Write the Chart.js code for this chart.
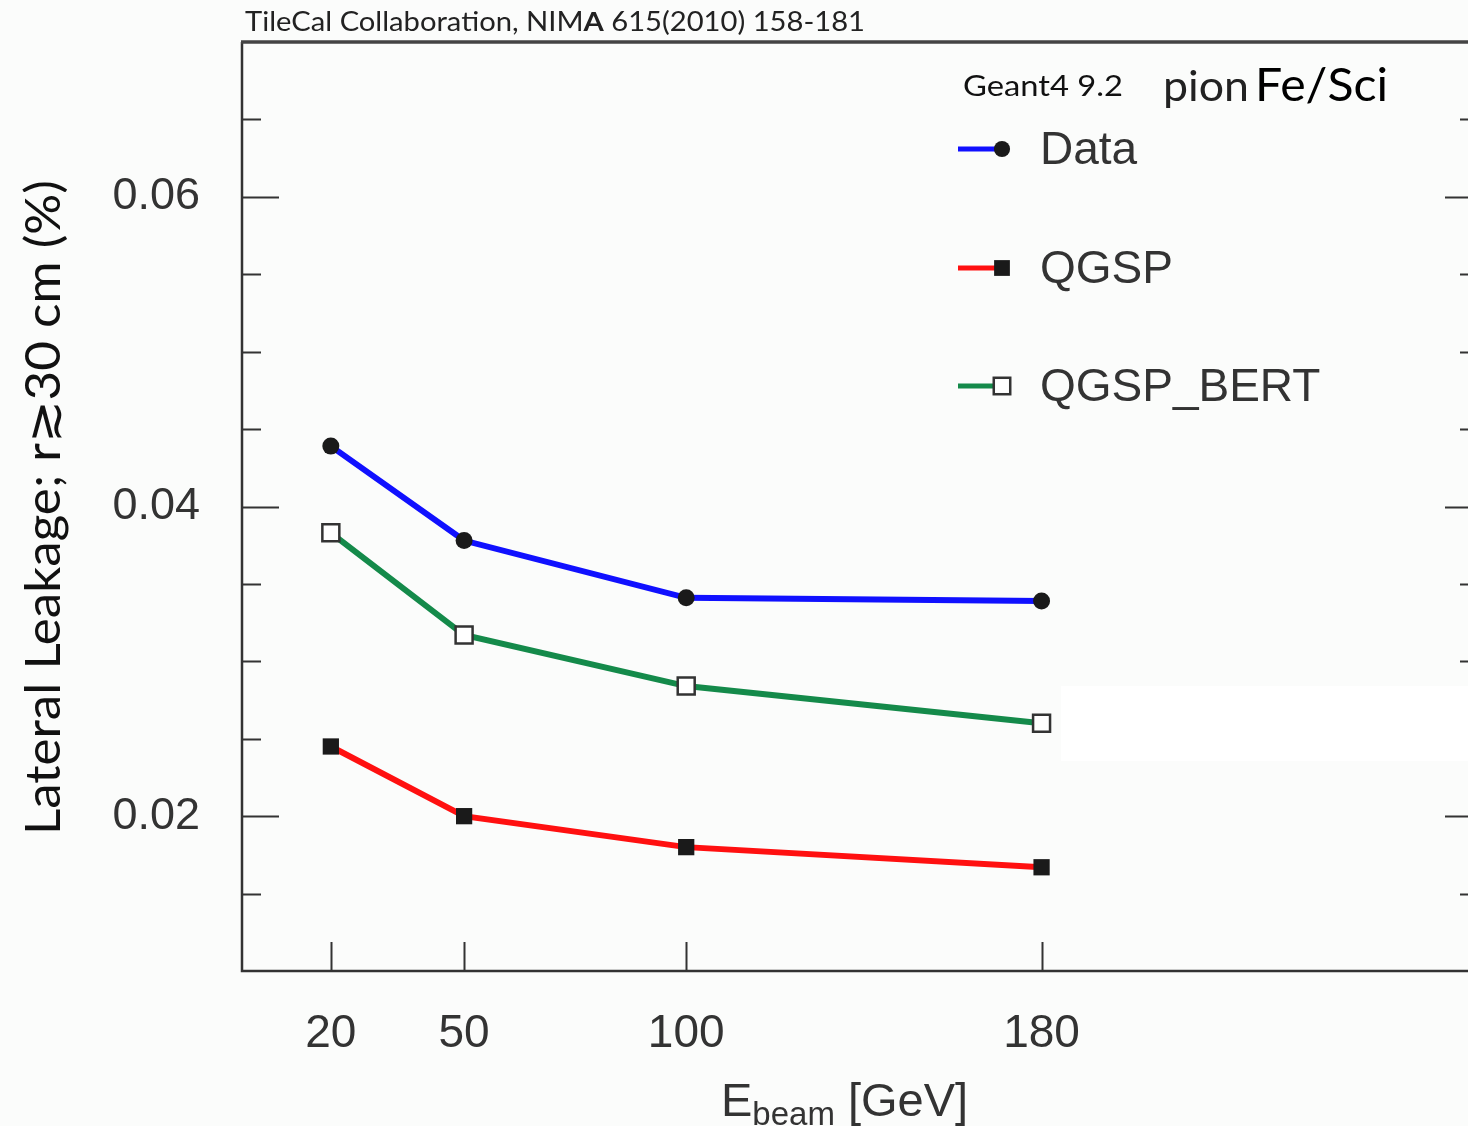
<!DOCTYPE html>
<html>
<head>
<meta charset="utf-8">
<script src="https://cdn.jsdelivr.net/npm/chart.js@4.4.1/dist/chart.umd.min.js"></script>
<style>
  html, body { margin: 0; padding: 0; background: #fbfcfb; }
  #wrap { width: 1468px; height: 1126px; position: relative; }
</style>
</head>
<body>
<div id="wrap"><canvas id="chart" width="1468" height="1126"></canvas></div>
<script>
// beam energies (GeV)
const energies = [20, 50, 100, 180];
// lateral leakage r >~ 30 cm (%)
const dataVals = [0.0439, 0.0378, 0.0341, 0.0339];
const qgspVals = [0.0245, 0.0200, 0.0180, 0.0167];
const bertVals = [0.0383, 0.0317, 0.0284, 0.0260];

const seriesNames = ["Data", "QGSP", "QGSP_BERT"];
const xTickVals = [20, 50, 100, 180];
const yMajorTicks = [0.02, 0.04, 0.06];

const X_MIN = 0, X_MAX = 276;
const Y_MIN = 0.01, Y_MAX = 0.07, Y_STEP = 0.005;

const TICK_FONT = "Liberation Sans, Arial, sans-serif";
const GILL = "Lato, 'Open Sans', sans-serif";

const pts = (vals) => energies.map((x, i) => ({ x, y: vals[i] }));

function isMajor(v) {
  return yMajorTicks.some((m) => Math.abs(m - v) < 1e-6);
}

// draw text squeezed/stretched horizontally to a given width
function fitText(ctx, text, x, y, width) {
  const w = ctx.measureText(text).width;
  ctx.save();
  ctx.translate(x, y);
  ctx.scale(width / w, 1);
  ctx.fillText(text, 0, 0);
  ctx.restore();
}

function drawMarker(ctx, ds, x, y, scale) {
  const r = ds.pointRadius * scale;
  ctx.save();
  ctx.lineWidth = ds.pointBorderWidth;
  ctx.strokeStyle = ds.pointBorderColor;
  ctx.fillStyle = ds.pointBackgroundColor;
  if (ds.pointStyle === "circle") {
    ctx.beginPath();
    ctx.arc(x, y, r, 0, Math.PI * 2);
    ctx.fill();
  } else {
    const s = r / Math.SQRT2;
    ctx.fillRect(x - s, y - s, 2 * s, 2 * s);
    if (ds.pointBorderWidth) ctx.strokeRect(x - s, y - s, 2 * s, 2 * s);
  }
  ctx.restore();
}

const bgPlugin = {
  id: "bg",
  beforeDraw(chart) {
    const { ctx, width, height } = chart;
    ctx.save();
    ctx.fillStyle = "#fbfcfb";
    ctx.fillRect(0, 0, width, height);
    ctx.restore();
  },
};

const framePlugin = {
  id: "frame",
  afterDraw(chart) {
    const { ctx, chartArea: a, scales } = chart;
    const x = scales.x, y = scales.y;
    ctx.save();

    // pale patch right of the last point (scan artefact in the source)
    ctx.fillStyle = "#ffffff";
    ctx.fillRect(1061, 686, a.right - 1061, 75);

    // axis frame
    ctx.strokeStyle = "#333";
    ctx.lineWidth = 2.5;
    ctx.beginPath();
    ctx.moveTo(a.left, a.top);
    ctx.lineTo(a.left, a.bottom);
    ctx.lineTo(a.right, a.bottom);
    ctx.stroke();
    ctx.lineWidth = 3.5;
    ctx.strokeStyle = "#444";
    ctx.beginPath();
    ctx.moveTo(a.left - 1, a.top);
    ctx.lineTo(a.right, a.top);
    ctx.stroke();

    // y ticks, inward on both sides
    ctx.strokeStyle = "#333";
    ctx.lineWidth = 2;
    y.ticks.forEach((t) => {
      const v = t.value;
      if (v <= Y_MIN + 1e-6 || v >= Y_MAX - 1e-6) return;
      const py = Math.round(y.getPixelForValue(v)) + 0.5;
      const major = isMajor(v);
      ctx.beginPath();
      ctx.moveTo(a.left, py);
      ctx.lineTo(a.left + (major ? 37 : 19), py);
      if (py < 686 || py > 761) {
        ctx.moveTo(a.right, py);
        ctx.lineTo(a.right - (major ? 23 : 8), py);
      }
      ctx.stroke();
    });

    // x ticks, inward from the bottom
    xTickVals.forEach((v) => {
      const px = Math.round(x.getPixelForValue(v)) + 0.5;
      ctx.beginPath();
      ctx.moveTo(px, a.bottom);
      ctx.lineTo(px, a.bottom - 29);
      ctx.stroke();
    });

    // tick labels
    ctx.fillStyle = "#333";
    ctx.font = `45px ${TICK_FONT}`;
    ctx.textAlign = "right";
    ctx.textBaseline = "middle";
    yMajorTicks.forEach((v) => {
      ctx.fillText(v.toFixed(2), 200, y.getPixelForValue(v));
    });
    ctx.font = `46px ${TICK_FONT}`;
    ctx.textAlign = "center";
    xTickVals.forEach((v) => {
      ctx.fillText(String(v), x.getPixelForValue(v), 1034);
    });

    // x title: E_beam [GeV]
    ctx.textAlign = "left";
    ctx.textBaseline = "alphabetic";
    ctx.font = `47px ${TICK_FONT}`;
    let cx = 721;
    ctx.fillText("E", cx, 1116);
    cx += ctx.measureText("E").width;
    ctx.font = `33px ${TICK_FONT}`;
    ctx.fillText("beam", cx, 1125);
    cx += ctx.measureText("beam").width;
    ctx.font = `47px ${TICK_FONT}`;
    ctx.fillText(" [GeV]", cx, 1116);

    // y title
    ctx.save();
    ctx.translate(45, 835);
    ctx.rotate(-Math.PI / 2);
    ctx.fillStyle = "#111";
    ctx.font = `48px ${GILL}`;
    ctx.textAlign = "left";
    ctx.textBaseline = "middle";
    fitText(ctx, "Lateral Leakage; r\u227330 cm (%)", 0, 0, 655);
    ctx.restore();

    // top reference line
    ctx.fillStyle = "#222";
    ctx.textBaseline = "alphabetic";
    ctx.textAlign = "left";
    const p1 = "TileCal Collaboration, NIM", p2 = "A", p3 = " 615(2010) 158-181";
    ctx.font = `26px ${GILL}`;
    const w1 = ctx.measureText(p1).width, w3 = ctx.measureText(p3).width;
    ctx.font = `bold 26px ${GILL}`;
    const w2 = ctx.measureText(p2).width;
    const sx = 620 / (w1 + w2 + w3);
    ctx.save();
    ctx.translate(245, 31);
    ctx.scale(sx, 1);
    ctx.font = `26px ${GILL}`;
    ctx.fillText(p1, 0, 0);
    ctx.font = `bold 26px ${GILL}`;
    ctx.fillText(p2, w1, 0);
    ctx.font = `26px ${GILL}`;
    ctx.fillText(p3, w1 + w2, 0);
    ctx.restore();

    // legend heading
    ctx.fillStyle = "#111";
    ctx.font = `29px ${GILL}`;
    fitText(ctx, "Geant4 9.2", 963, 96, 160);
    ctx.fillStyle = "#222";
    ctx.font = `42px ${GILL}`;
    fitText(ctx, "pion", 1163, 101, 86);
    ctx.fillStyle = "#000";
    ctx.font = `47px ${GILL}`;
    fitText(ctx, "Fe/Sci", 1255, 101, 133);

    // legend entries
    const rows = [149, 268, 386];
    chart.data.datasets.forEach((ds, i) => {
      const yc = rows[i];
      ctx.strokeStyle = ds.borderColor;
      ctx.lineWidth = 5;
      ctx.beginPath();
      ctx.moveTo(958, yc);
      ctx.lineTo(996, yc);
      ctx.stroke();
      drawMarker(ctx, ds, 1002, yc, ds.pointStyle === "circle" ? 0.95 : 0.97);
      ctx.fillStyle = "#333";
      ctx.font = `46px ${TICK_FONT}`;
      ctx.textBaseline = "middle";
      ctx.fillText(ds.label, 1040, yc + 2);
      ctx.textBaseline = "alphabetic";
    });

    ctx.restore();
  },
};

const ctx = document.getElementById("chart");
new Chart(ctx, {
  type: "line",
  data: {
    datasets: [
      {
        label: seriesNames[0],
        data: pts(dataVals),
        borderColor: "#1010ff",
        borderWidth: 6,
        pointStyle: "circle",
        pointRadius: 8.5,
        pointBackgroundColor: "#1a1a1a",
        pointBorderColor: "#1a1a1a",
        pointBorderWidth: 0,
      },
      {
        label: seriesNames[1],
        data: pts(qgspVals),
        borderColor: "#ff1010",
        borderWidth: 6,
        pointStyle: "rect",
        pointRadius: 11.5,
        pointBackgroundColor: "#1a1a1a",
        pointBorderColor: "#1a1a1a",
        pointBorderWidth: 0,
      },
      {
        label: seriesNames[2],
        data: pts(bertVals),
        borderColor: "#148a4a",
        borderWidth: 6,
        pointStyle: "rect",
        pointRadius: 12,
        pointBackgroundColor: "#ffffff",
        pointBorderColor: "#333333",
        pointBorderWidth: 2.5,
      },
    ],
  },
  options: {
    responsive: false,
    animation: false,
    devicePixelRatio: 1,
    layout: { autoPadding: false, padding: { left: 242, top: 42, right: 0, bottom: 155 } },
    plugins: { legend: { display: false }, tooltip: { enabled: false } },
    elements: { line: { tension: 0 } },
    scales: {
      x: { type: "linear", display: false, min: X_MIN, max: X_MAX },
      y: {
        type: "linear", display: false, min: Y_MIN, max: Y_MAX,
        ticks: { stepSize: Y_STEP },
      },
    },
  },
  plugins: [bgPlugin, framePlugin],
});
</script>
</body>
</html>
